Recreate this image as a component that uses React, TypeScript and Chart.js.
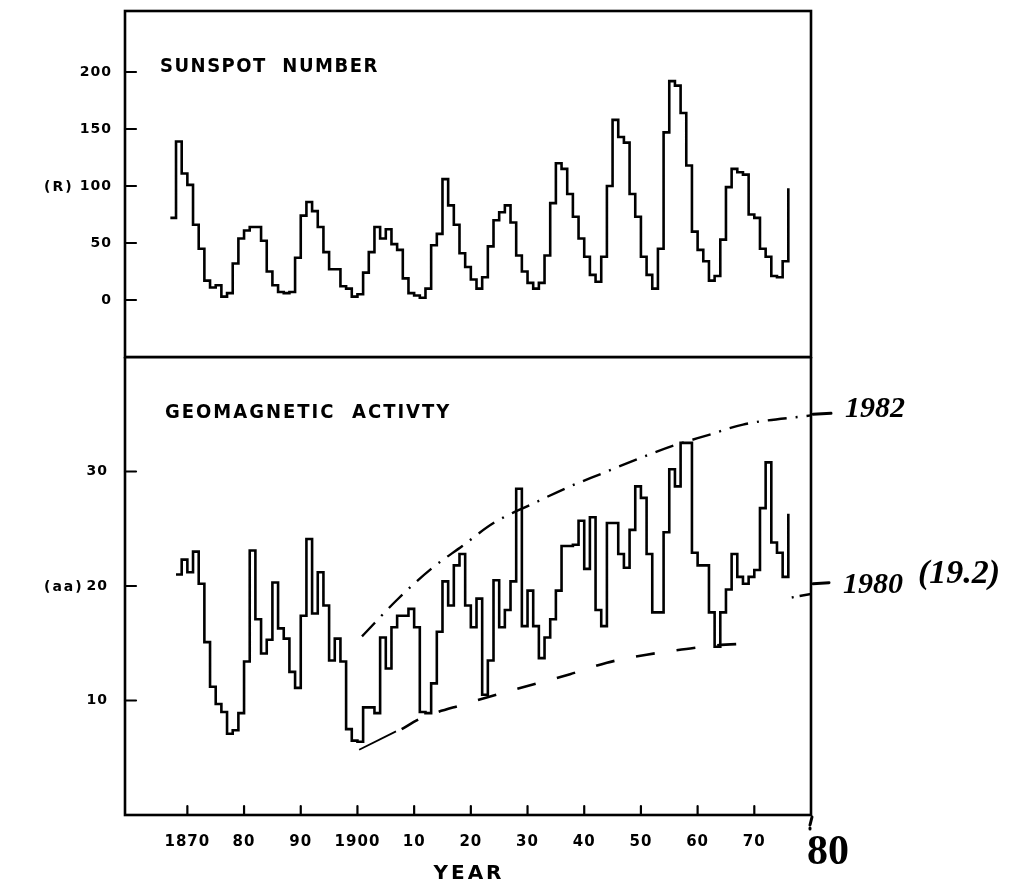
import React, { useEffect, useRef } from 'react';
import { Chart, registerables } from 'chart.js';

Chart.register(...registerables);

// ---------------- data ----------------
const sunspotYears = [
  1867, 1868, 1869, 1870, 1871, 1872, 1873, 1874, 1875, 1876,
  1877, 1878, 1879, 1880, 1881, 1882, 1883, 1884, 1885, 1886,
  1887, 1888, 1889, 1890, 1891, 1892, 1893, 1894, 1895, 1896,
  1897, 1898, 1899, 1900, 1901, 1902, 1903, 1904, 1905, 1906,
  1907, 1908, 1909, 1910, 1911, 1912, 1913, 1914, 1915, 1916,
  1917, 1918, 1919, 1920, 1921, 1922, 1923, 1924, 1925, 1926,
  1927, 1928, 1929, 1930, 1931, 1932, 1933, 1934, 1935, 1936,
  1937, 1938, 1939, 1940, 1941, 1942, 1943, 1944, 1945, 1946,
  1947, 1948, 1949, 1950, 1951, 1952, 1953, 1954, 1955, 1956,
  1957, 1958, 1959, 1960, 1961, 1962, 1963, 1964, 1965, 1966,
  1967, 1968, 1969, 1970, 1971, 1972, 1973, 1974, 1975, 1976,
];
const sunspotNumber = [
  72, 139, 111, 101, 66, 45, 17, 11, 13, 3,
  6, 32, 54, 61, 64, 64, 52, 25, 13, 7,
  6, 7, 37, 74, 86, 78, 64, 42, 27, 27,
  12, 10, 3, 5, 24, 42, 64, 54, 62, 49,
  44, 19, 6, 4, 2, 10, 48, 58, 106, 83,
  66, 41, 29, 18, 10, 20, 47, 70, 77, 83,
  68, 39, 25, 15, 10, 15, 39, 85, 120, 115,
  93, 73, 54, 38, 22, 16, 38, 100, 158, 143,
  138, 93, 73, 38, 22, 10, 45, 147, 192, 188,
  164, 118, 60, 44, 34, 17, 21, 53, 99, 115,
  112, 110, 75, 72, 45, 38, 21, 20, 34, 98,
];

const aaYears = [
  1868, 1869, 1870, 1871, 1872, 1873, 1874, 1875, 1876, 1877,
  1878, 1879, 1880, 1881, 1882, 1883, 1884, 1885, 1886, 1887,
  1888, 1889, 1890, 1891, 1892, 1893, 1894, 1895, 1896, 1897,
  1898, 1899, 1900, 1901, 1902, 1903, 1904, 1905, 1906, 1907,
  1908, 1909, 1910, 1911, 1912, 1913, 1914, 1915, 1916, 1917,
  1918, 1919, 1920, 1921, 1922, 1923, 1924, 1925, 1926, 1927,
  1928, 1929, 1930, 1931, 1932, 1933, 1934, 1935, 1936, 1937,
  1938, 1939, 1940, 1941, 1942, 1943, 1944, 1945, 1946, 1947,
  1948, 1949, 1950, 1951, 1952, 1953, 1954, 1955, 1956, 1957,
  1958, 1959, 1960, 1961, 1962, 1963, 1964, 1965, 1966, 1967,
  1968, 1969, 1970, 1971, 1972, 1973, 1974, 1975, 1976,
];
const aaIndex = [
  21.0, 22.3, 21.2, 23.0, 20.2, 15.1, 11.2, 9.7, 9.0, 7.1,
  7.4, 8.9, 13.4, 23.1, 17.1, 14.1, 15.3, 20.3, 16.3, 15.4,
  12.5, 11.1, 17.4, 24.1, 17.6, 21.2, 18.3, 13.5, 15.4, 13.4,
  7.5, 6.5, 6.4, 9.4, 9.4, 8.9, 15.5, 12.8, 16.4, 17.4,
  17.4, 18.0, 16.4, 9.0, 8.9, 11.5, 16.0, 20.4, 18.3, 21.8,
  22.8, 18.3, 16.4, 18.9, 10.5, 13.5, 20.5, 16.4, 17.9, 20.4,
  28.5, 16.5, 19.6, 16.5, 13.7, 15.5, 17.1, 19.6, 23.5, 23.5,
  23.6, 25.7, 21.5, 26.0, 17.9, 16.5, 25.5, 25.5, 22.8, 21.6,
  24.9, 28.7, 27.7, 22.8, 17.7, 17.7, 24.7, 30.2, 28.7, 32.5,
  32.5, 22.9, 21.8, 21.8, 17.7, 14.7, 17.7, 19.7, 22.8, 20.8,
  20.2, 20.8, 21.4, 26.8, 30.8, 23.8, 22.9, 20.8, 26.3,
];

// hand-drawn envelope curves on the aa panel
const upperEnvYears = [1900.8, 1907, 1913, 1918.5, 1924, 1931, 1937.5, 1943, 1950, 1956, 1962, 1968, 1980];
const upperEnvValues = [15.6, 18.8, 21.5, 23.5, 25.5, 27.2, 28.7, 29.8, 31.2, 32.3, 33.2, 34.1, 34.9];
const lowerSolidYears = [1900.3, 1906.8];
const lowerSolidValues = [5.7, 7.3];
const lowerEnvYears = [1907.8, 1911, 1919, 1928, 1937.5, 1944, 1951, 1958, 1963, 1970];
const lowerEnvValues = [7.5, 8.4, 9.7, 11.0, 12.3, 13.3, 14.0, 14.5, 14.8, 15.0];
const mark1980Years = [1976.6, 1980];
const mark1980Values = [19.0, 19.3];

// axes
const sunTicks = [0, 50, 100, 150, 200];
const aaTicks = [10, 20, 30];
const yearTicks = [1870, 1880, 1890, 1900, 1910, 1920, 1930, 1940, 1950, 1960, 1970];
const yearTickLabels = ['1870', '80', '90', '1900', '10', '20', '30', '40', '50', '60', '70'];
const yearMin = 1859;
const yearMax = 1980;

// annotation texts
const topTitle = 'SUNSPOT  NUMBER';
const topUnit = '(R)';
const bottomTitle = 'GEOMAGNETIC  ACTIVTY';
const bottomUnit = '(aa)';
const xTitle = 'YEAR';
const note1982 = '1982';
const note1982Value = 35.0;
const note1980 = '1980';
const note1980Value = 20.2;
const note1980Paren = '(19.2)';
const handEnd = '80';

// ---------------- helpers ----------------
const FONT = '"DejaVu Sans", "Liberation Sans", sans-serif';
const FONT_C = '"DejaVu Sans Condensed", "DejaVu Sans", sans-serif';
const HAND = '"Liberation Serif", "DejaVu Serif", serif';
const TOP_OFFSET = 357; // page y of the bottom canvas

const pts = (xs: number[], ys: number[]) => xs.map((x, i) => ({ x, y: ys[i] }));

function text(ctx: CanvasRenderingContext2D, s: string, x: number, y: number, font: string, spacing: string, align: CanvasTextAlign = 'left') {
  ctx.save();
  ctx.font = font;
  (ctx as any).letterSpacing = spacing;
  ctx.textAlign = align;
  ctx.textBaseline = 'alphabetic';
  ctx.fillStyle = '#000';
  ctx.fillText(s, x, y);
  ctx.restore();
}

function line(ctx: CanvasRenderingContext2D, x1: number, y1: number, x2: number, y2: number, w: number) {
  ctx.save();
  ctx.strokeStyle = '#000';
  ctx.lineWidth = w;
  ctx.lineCap = 'round';
  ctx.beginPath();
  ctx.moveTo(x1, y1);
  ctx.lineTo(x2, y2);
  ctx.stroke();
  ctx.restore();
}

const spacingPlugin = {
  id: 'spacing',
  beforeDraw(chart: any) {
    (chart.ctx as any).letterSpacing = '1px';
  },
};

function frameAndTicks(chart: any, drawX: boolean) {
  const { ctx, chartArea: a } = chart;
  ctx.save();
  ctx.strokeStyle = '#000';
  ctx.lineWidth = 2.6;
  ctx.strokeRect(a.left, a.top, a.right - a.left, a.bottom - a.top);
  ctx.restore();
  const y = chart.scales.y;
  for (const t of y.ticks) {
    const py = y.getPixelForValue(t.value);
    line(ctx, a.left, py, a.left + 11, py, 2.2);
  }
  if (drawX) {
    const x = chart.scales.x;
    for (const t of x.ticks) {
      const px = x.getPixelForValue(t.value);
      line(ctx, px, a.bottom, px, a.bottom - 9, 2.2);
    }
  }
}

const topDecor = {
  id: 'topDecor',
  afterDraw(chart: any) {
    const { ctx } = chart;
    frameAndTicks(chart, false);
    text(ctx, topTitle, 160, 72, `bold 20px ${FONT_C}`, '1.5px');
    const py = chart.scales.y.getPixelForValue(100);
    text(ctx, topUnit, 44, py + 5, `bold 14px ${FONT}`, '2px');
  },
};

const bottomDecor = {
  id: 'bottomDecor',
  afterDraw(chart: any) {
    const { ctx, chartArea: a } = chart;
    frameAndTicks(chart, true);
    const y = chart.scales.y;
    const x = chart.scales.x;
    text(ctx, bottomTitle, 165, 418 - TOP_OFFSET, `bold 20px ${FONT_C}`, '2px');
    text(ctx, bottomUnit, 44, y.getPixelForValue(20) + 5, `bold 14px ${FONT}`, '2px');
    text(ctx, xTitle, 469, 879 - TOP_OFFSET, `bold 20px ${FONT}`, '3px', 'center');
    // hand-written notes
    const xEnd = x.getPixelForValue(yearMax);
    line(ctx, xEnd + 1, a.bottom + 2, xEnd - 1, a.bottom + 10, 3);
    line(ctx, xEnd - 1, a.bottom + 13, xEnd - 1, a.bottom + 14, 3);
    text(ctx, handEnd, 807, 864 - TOP_OFFSET, `bold 42px ${HAND}`, '0px');
    const y82 = y.getPixelForValue(note1982Value);
    line(ctx, a.right + 2, y82, a.right + 20, y82 - 1, 3);
    text(ctx, note1982, 845, y82 + 3, `italic bold 30px ${HAND}`, '0px');
    const y80 = y.getPixelForValue(note1980Value);
    line(ctx, a.right + 2, y80, a.right + 18, y80 - 1, 3);
    text(ctx, note1980, 843, y80 + 9, `italic bold 30px ${HAND}`, '0px');
    text(ctx, note1980Paren, 918, y80 - 1, `italic bold 34px ${HAND}`, '0px');
  },
};

const yFit = (width: number) => (s: any) => {
  s.width = width;
  s.paddingTop = 0;
  s.paddingBottom = 0;
};

const tickFont = { family: FONT, size: 14, weight: 'bold' as const };

export default function App() {
  const topRef = useRef<HTMLCanvasElement>(null);
  const botRef = useRef<HTMLCanvasElement>(null);

  useEffect(() => {
    const top = new Chart(topRef.current!, {
      type: 'line',
      data: {
        datasets: [
          {
            data: pts(sunspotYears, sunspotNumber),
            borderColor: '#000',
            borderWidth: 2.6,
            pointRadius: 0,
            stepped: 'before',
            fill: false,
          },
        ],
      },
      options: {
        responsive: false,
        animation: false,
        events: [],
        layout: { padding: { left: 0, right: 214, top: 11, bottom: 3 } },
        plugins: { legend: { display: false }, tooltip: { enabled: false } },
        scales: {
          x: { type: 'linear', min: yearMin, max: yearMax, display: false },
          y: {
            type: 'linear',
            min: -50,
            max: 253.5,
            afterFit: yFit(125),
            afterBuildTicks: (s: any) => {
              s.ticks = sunTicks.map((v) => ({ value: v }));
            },
            grid: { display: false },
            border: { display: false },
            ticks: { color: '#000', font: tickFont, padding: 5 },
          },
        },
      },
      plugins: [spacingPlugin, topDecor],
    } as any);

    const bottom = new Chart(botRef.current!, {
      type: 'line',
      data: {
        datasets: [
          {
            data: pts(aaYears, aaIndex),
            borderColor: '#000',
            borderWidth: 2.6,
            pointRadius: 0,
            stepped: 'before',
            fill: false,
          },
          {
            data: pts(upperEnvYears, upperEnvValues),
            borderColor: '#000',
            borderWidth: 2.4,
            pointRadius: 0,
            cubicInterpolationMode: 'monotone',
            borderDash: [19, 9, 2, 9],
            fill: false,
          },
          {
            data: pts(lowerSolidYears, lowerSolidValues),
            borderColor: '#000',
            borderWidth: 1.8,
            pointRadius: 0,
            fill: false,
          },
          {
            data: pts(lowerEnvYears, lowerEnvValues),
            borderColor: '#000',
            borderWidth: 2.6,
            pointRadius: 0,
            cubicInterpolationMode: 'monotone',
            borderDash: [19, 22],
            fill: false,
          },
          {
            data: pts(mark1980Years, mark1980Values),
            borderColor: '#000',
            borderWidth: 2.4,
            pointRadius: 0,
            borderDash: [2, 6, 14, 4],
            fill: false,
          },
        ],
      },
      options: {
        responsive: false,
        animation: false,
        events: [],
        layout: { padding: { left: 0, right: 214, top: 0, bottom: 0 } },
        plugins: { legend: { display: false }, tooltip: { enabled: false } },
        scales: {
          x: {
            type: 'linear',
            min: yearMin,
            max: yearMax,
            afterBuildTicks: (s: any) => {
              s.ticks = yearTicks.map((v) => ({ value: v }));
            },
            afterFit: (s: any) => {
              s.height = 72;
              s.paddingLeft = 0;
              s.paddingRight = 0;
            },
            grid: { display: false },
            border: { display: false },
            ticks: {
              color: '#000',
              font: { family: FONT, size: 15, weight: 'bold' },
              padding: 10,
              autoSkip: false,
              maxRotation: 0,
              minRotation: 0,
              callback: (_v: any, i: number) => yearTickLabels[i],
            },
          },
          y: {
            type: 'linear',
            min: 0,
            max: 40,
            afterFit: yFit(125),
            afterBuildTicks: (s: any) => {
              s.ticks = aaTicks.map((v) => ({ value: v }));
            },
            grid: { display: false },
            border: { display: false },
            ticks: { color: '#000', font: tickFont, padding: 9 },
          },
        },
      },
      plugins: [spacingPlugin, bottomDecor],
    } as any);

    return () => {
      top.destroy();
      bottom.destroy();
    };
  }, []);

  return (
    <div style={{ position: 'absolute', left: 0, top: 0, width: 1025, height: 887, background: '#fff', overflow: 'hidden' }}>
      <canvas ref={topRef} width={1025} height={360} style={{ position: 'absolute', left: 0, top: 0, width: 1025, height: 360 }} />
      <canvas ref={botRef} width={1025} height={530} style={{ position: 'absolute', left: 0, top: TOP_OFFSET, width: 1025, height: 530 }} />
    </div>
  );
}
